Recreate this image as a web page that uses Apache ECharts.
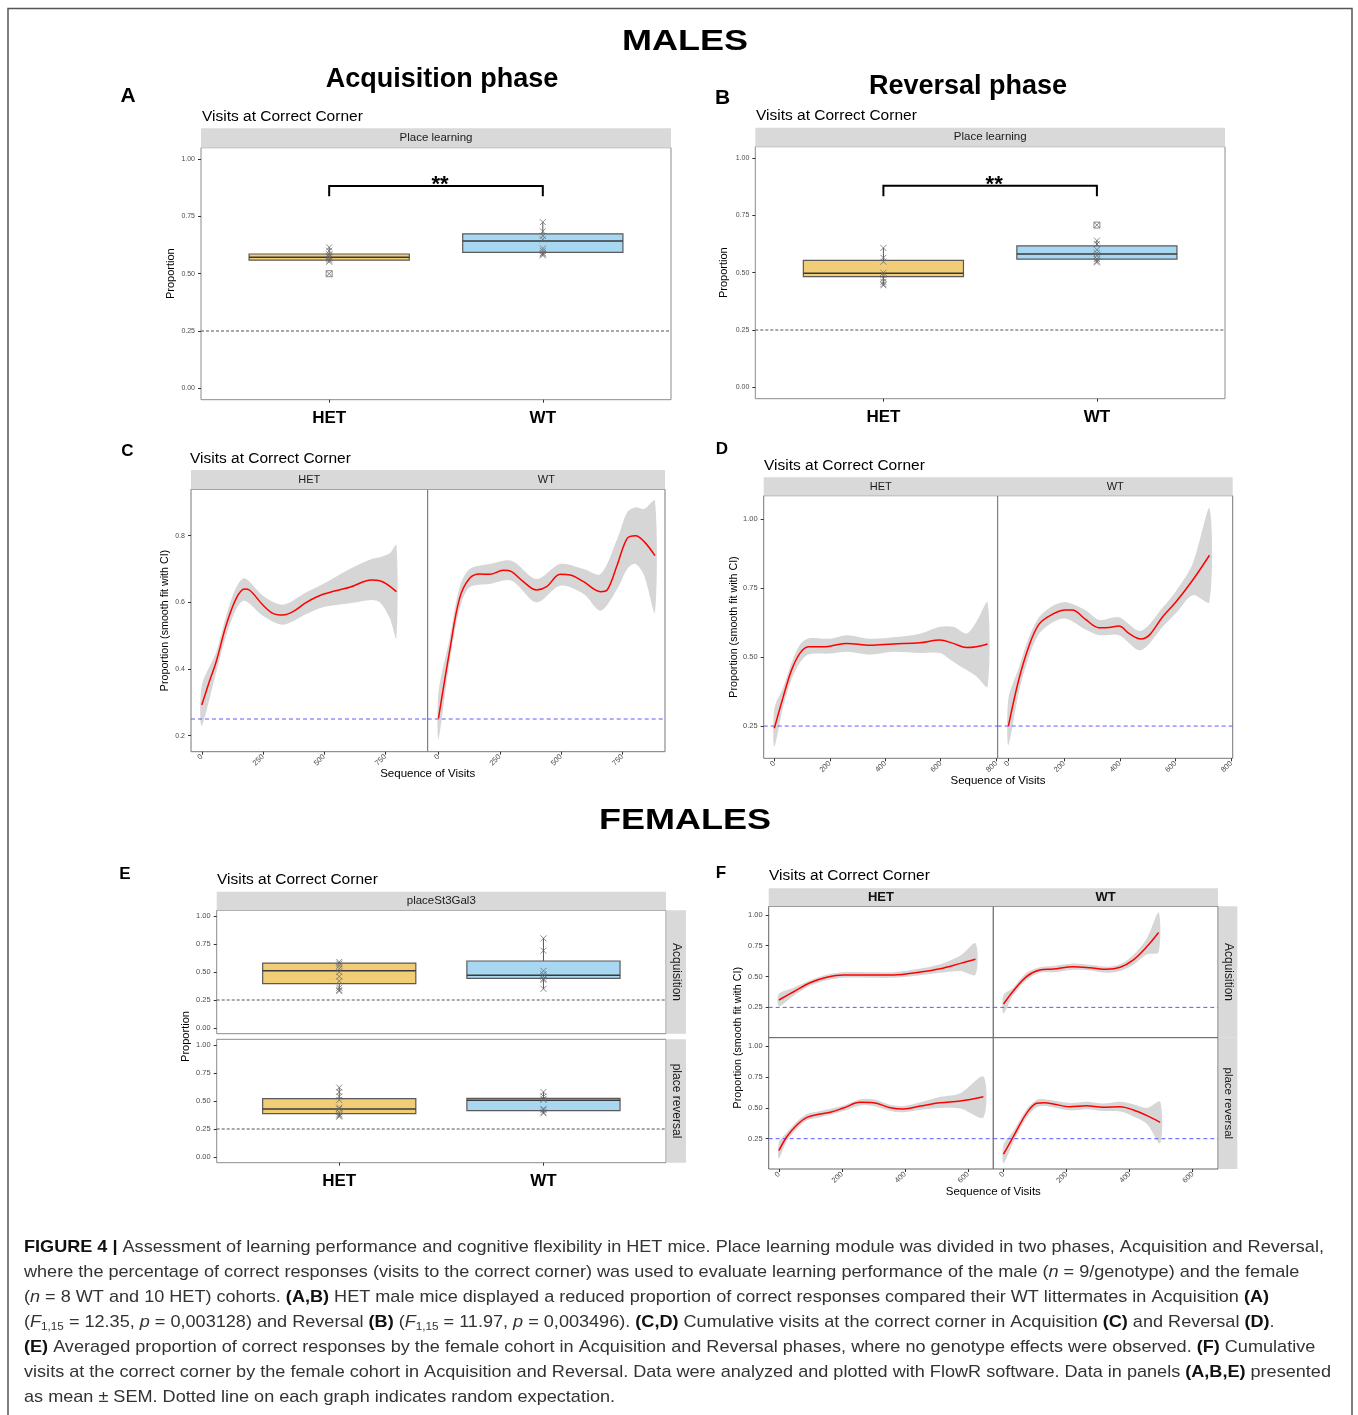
<!DOCTYPE html>
<html><head><meta charset="utf-8">
<script src="https://cdn.jsdelivr.net/npm/echarts@6/dist/echarts.min.js"></script>
<style>html,body{margin:0;padding:0;background:#fff}#main{width:1358px;height:1415px}</style>
</head><body><div id="main"></div>
<script>
// ---------------- DATA ----------------
const groupLabels = ['HET', 'WT'];
const chanceLevel = 0.25;
const boxYTicks = [0, 0.25, 0.5, 0.75, 1];
const cYTicks = [0.2, 0.4, 0.6, 0.8];
const cXTicks = [0, 250, 500, 750];
const dYTicks = [0.25, 0.5, 0.75, 1];
const dXTicks = [0, 200, 400, 600, 800];
const fYTicks = [0.25, 0.5, 0.75, 1];
const fXTicks = [0, 200, 400, 600];

// box stats: [lower whisker, Q1, median, Q3, upper whisker]
const maleAcqHetBox = [0.55, 0.559, 0.572, 0.586, 0.615];
const maleAcqWtBox  = [0.58, 0.593, 0.643, 0.674, 0.725];
const maleAcqHetPts = [0.615, 0.60, 0.585, 0.578, 0.572, 0.565, 0.558, 0.552];
const maleAcqHetOut = [0.50];
const maleAcqWtPts  = [0.725, 0.685, 0.665, 0.65, 0.61, 0.60, 0.59, 0.585, 0.58];
const maleAcqBracket = [0.883, 0.838];

const maleRevHetBox = [0.445, 0.483, 0.498, 0.554, 0.608];
const maleRevWtBox  = [0.545, 0.559, 0.582, 0.617, 0.64];
const maleRevHetPts = [0.608, 0.565, 0.548, 0.50, 0.49, 0.475, 0.46, 0.45, 0.445];
const maleRevWtPts  = [0.64, 0.625, 0.60, 0.585, 0.575, 0.56, 0.55, 0.545];
const maleRevWtOut  = [0.708];
const maleRevBracket = [0.88, 0.834];

const femAcqHetBox = [0.33, 0.396, 0.512, 0.58, 0.59];
const femAcqWtBox  = [0.35, 0.444, 0.47, 0.598, 0.80];
const femAcqHetPts = [0.59, 0.575, 0.555, 0.53, 0.50, 0.46, 0.42, 0.36, 0.34, 0.33];
const femAcqWtPts  = [0.80, 0.69, 0.51, 0.48, 0.46, 0.44, 0.43, 0.35];
const femRevHetBox = [0.36, 0.388, 0.429, 0.521, 0.62];
const femRevWtBox  = [0.39, 0.414, 0.506, 0.524, 0.58];
const femRevHetPts = [0.62, 0.58, 0.54, 0.51, 0.44, 0.43, 0.40, 0.38, 0.37, 0.36];
const femRevWtPts  = [0.58, 0.54, 0.52, 0.51, 0.43, 0.42, 0.40, 0.39];

// smooth fits [visit, proportion] and CI bands [visit, lower, upper]
const maleAcqHetFit = [[0,0.292],[30,0.36],[59,0.422],[100,0.532],[141,0.612],[175,0.64],[195,0.637],[250,0.592],[291,0.567],[332,0.562],[373,0.572],[428,0.60],[496,0.624],[605,0.645],[694,0.667],[728,0.665],[796,0.632]];
const maleAcqHetCI  = [[0,0.23,0.35],[59,0.39,0.45],[100,0.50,0.56],[141,0.58,0.645],[175,0.605,0.672],[250,0.56,0.62],[332,0.533,0.593],[428,0.565,0.63],[496,0.585,0.655],[605,0.597,0.70],[694,0.607,0.73],[728,0.60,0.735],[769,0.552,0.747],[796,0.492,0.772]];
const maleAcqWtFit  = [[0,0.252],[45,0.452],[86,0.612],[127,0.672],[168,0.685],[209,0.684],[264,0.696],[298,0.692],[346,0.662],[400,0.637],[441,0.647],[496,0.684],[537,0.682],[592,0.662],[661,0.632],[688,0.637],[729,0.712],[770,0.792],[804,0.80],[839,0.782],[883,0.74]];
const maleAcqWtCI   = [[0,0.19,0.33],[45,0.42,0.49],[86,0.58,0.645],[127,0.645,0.70],[209,0.655,0.715],[298,0.665,0.725],[400,0.60,0.67],[496,0.65,0.715],[592,0.625,0.70],[661,0.575,0.685],[729,0.64,0.79],[770,0.70,0.87],[804,0.715,0.885],[839,0.68,0.88],[883,0.57,0.905]];

const maleRevHetFit = [[0,0.242],[32,0.356],[62,0.453],[92,0.514],[123,0.538],[165,0.538],[201,0.54],[261,0.55],[345,0.543],[429,0.548],[525,0.552],[597,0.562],[645,0.55],[693,0.535],[729,0.538],[769,0.548]];
const maleRevHetCI  = [[0,0.175,0.314],[32,0.32,0.39],[62,0.42,0.48],[92,0.48,0.545],[123,0.51,0.568],[201,0.513,0.567],[261,0.52,0.58],[345,0.51,0.567],[429,0.52,0.572],[525,0.515,0.585],[597,0.515,0.61],[645,0.483,0.61],[693,0.453,0.586],[729,0.43,0.629],[769,0.393,0.699]];
const maleRevWtFit  = [[0,0.25],[37,0.417],[73,0.538],[110,0.62],[157,0.655],[205,0.671],[229,0.671],[277,0.637],[325,0.607],[361,0.608],[397,0.613],[433,0.586],[475,0.566],[506,0.58],[554,0.647],[602,0.701],[662,0.78],[722,0.87]];
const maleRevWtCI   = [[0,0.18,0.35],[37,0.37,0.46],[73,0.50,0.57],[110,0.585,0.645],[157,0.625,0.685],[205,0.64,0.70],[277,0.60,0.67],[325,0.58,0.635],[397,0.58,0.645],[475,0.525,0.595],[554,0.61,0.68],[602,0.66,0.74],[662,0.725,0.84],[722,0.70,1.04]];

const femAcqHetFit = [[0,0.31],[47,0.377],[99,0.45],[152,0.494],[205,0.513],[290,0.513],[364,0.513],[449,0.537],[512,0.564],[576,0.607],[624,0.64]];
const femAcqHetCI  = [[0,0.26,0.36],[47,0.345,0.41],[99,0.425,0.47],[152,0.47,0.515],[205,0.49,0.535],[290,0.49,0.535],[364,0.49,0.535],[449,0.51,0.565],[512,0.53,0.60],[576,0.545,0.67],[624,0.515,0.77]];
const femAcqWtFit  = [[0,0.277],[31,0.383],[73,0.50],[115,0.553],[158,0.561],[221,0.58],[274,0.572],[327,0.559],[370,0.575],[412,0.635],[455,0.743],[492,0.857]];
const femAcqWtCI   = [[0,0.20,0.35],[31,0.35,0.41],[73,0.47,0.53],[115,0.53,0.575],[158,0.535,0.585],[221,0.555,0.605],[274,0.55,0.595],[327,0.53,0.58],[370,0.545,0.60],[412,0.595,0.675],[455,0.68,0.81],[492,0.70,1.02]];
const femRevHetFit = [[0,0.153],[25,0.266],[57,0.361],[89,0.423],[131,0.45],[163,0.464],[205,0.499],[258,0.545],[300,0.542],[353,0.502],[396,0.491],[449,0.515],[512,0.542],[576,0.556],[649,0.591]];
const femRevHetCI  = [[0,0.09,0.22],[25,0.23,0.30],[57,0.33,0.39],[89,0.40,0.45],[131,0.425,0.475],[205,0.475,0.52],[258,0.52,0.57],[300,0.515,0.57],[353,0.475,0.525],[396,0.465,0.515],[449,0.485,0.545],[512,0.50,0.59],[576,0.495,0.62],[649,0.423,0.754]];
const femRevWtFit  = [[0,0.125],[31,0.266],[73,0.456],[105,0.537],[131,0.542],[158,0.532],[210,0.51],[263,0.518],[316,0.505],[370,0.51],[412,0.483],[455,0.437],[497,0.383]];
const femRevWtCI   = [[0,0.05,0.20],[31,0.22,0.31],[73,0.42,0.49],[105,0.505,0.565],[131,0.515,0.57],[210,0.48,0.54],[263,0.49,0.55],[316,0.475,0.535],[370,0.47,0.55],[412,0.43,0.53],[455,0.37,0.50],[497,0.212,0.55]];

const captionLines = [
  '{b|FIGURE 4 |} Assessment of learning performance and cognitive flexibility in HET mice. Place learning module was divided in two phases, Acquisition and Reversal,',
  'where the percentage of correct responses (visits to the correct corner) was used to evaluate learning performance of the male ({i|n} = 9/genotype) and the female',
  '({i|n} = 8 WT and 10 HET) cohorts. {b|(A,B)} HET male mice displayed a reduced proportion of correct responses compared their WT littermates in Acquisition {b|(A)}',
  '({i|F}{s|1,15} = 12.35, {i|p} = 0,003128) and Reversal {b|(B)} ({i|F}{s|1,15} = 11.97, {i|p} = 0,003496). {b|(C,D)} Cumulative visits at the correct corner in Acquisition {b|(C)} and Reversal {b|(D)}.',
  '{b|(E)} Averaged proportion of correct responses by the female cohort in Acquisition and Reversal phases, where no genotype effects were observed. {b|(F)} Cumulative',
  'visits at the correct corner by the female cohort in Acquisition and Reversal. Data were analyzed and plotted with FlowR software. Data in panels {b|(A,B,E)} presented',
  'as mean \u00b1 SEM. Dotted line on each graph indicates random expectation.'
];

// ---------------- BUILD ----------------
const FONT = '"Liberation Sans", Arial, Helvetica, sans-serif';
const HET_FILL = '#f1cd78';
const WT_FILL = '#a7d7f1';
const CROSS = 'path://M0,0L10,10M10,0L0,10';
const BOXX = 'path://M0,0L10,0L10,10L0,10Z M0,0L10,10M10,0L0,10';
const grids = [], xAxes = [], yAxes = [], series = [], elements = [];

function addPanel(box, xr, yr, o) {
  const i = grids.length;
  grids.push({left: box[0], top: box[1], width: box[2], height: box[3], show: true,
    borderColor: o.border || '#8c8c8c', borderWidth: 1, backgroundColor: '#ffffff',
    containLabel: false, outerBoundsMode: 'none'});
  const xt = o.xTicks || [], yt = o.yTicks || [];
  xAxes.push({gridIndex: i, type: 'value', min: xr[0], max: xr[1], position: 'bottom',
    splitLine: {show: false}, axisLine: {show: false, onZero: false},
    axisTick: {show: xt.length > 0, customValues: xt, length: 3, lineStyle: {color: '#333', width: 1}},
    axisLabel: {show: xt.length > 0, customValues: xt, formatter: o.xFmt || (v => String(v)),
      rotate: o.xRot || 0, margin: o.xMargin == null ? 4 : o.xMargin, fontSize: o.xSize || 7.5,
      fontWeight: o.xWeight || 'normal', color: o.xColor || '#4d4d4d', fontFamily: FONT}});
  yAxes.push({gridIndex: i, type: 'value', min: yr[0], max: yr[1], position: 'left',
    splitLine: {show: false}, axisLine: {show: false, onZero: false},
    axisTick: {show: yt.length > 0, customValues: yt, length: 3, lineStyle: {color: '#333', width: 1}},
    axisLabel: {show: yt.length > 0, customValues: yt, formatter: o.yFmt || (v => v.toFixed(2)),
      margin: 6, fontSize: o.ySize || 7.5, color: '#4d4d4d', fontFamily: FONT}});
  return i;
}

function chanceSeries(i, color, dash) {
  series.push({type: 'custom', xAxisIndex: i, yAxisIndex: i, z: 2.5, silent: true, clip: false,
    data: [[chanceLevel]],
    renderItem: (p, api) => {
      const cs = p.coordSys;
      const y = api.coord([cs.x, api.value(0)])[1];
      const yy = api.coord([0, api.value(0)])[1];
      return {type: 'line', shape: {x1: cs.x, y1: yy, x2: cs.x + cs.width, y2: yy},
        style: {stroke: color, lineWidth: dash ? 1.1 : 1, lineDash: dash || [4, 3]}};
    }});
}

function boxSeries(i, pos, st, fill) {
  series.push({type: 'custom', xAxisIndex: i, yAxisIndex: i, z: 3, silent: true, clip: false,
    data: [[pos].concat(st)],
    renderItem: (p, api) => {
      const x = api.value(0);
      const c = k => api.coord([x, api.value(k)]);
      const lo = c(1), q1 = c(2), md = c(3), q3 = c(4), hi = c(5);
      const l = api.coord([x - 0.375, 0])[0], r = api.coord([x + 0.375, 0])[0];
      const ln = (a, b) => ({type: 'line', shape: {x1: a[0], y1: a[1], x2: b[0], y2: b[1]}, style: {stroke: '#555', lineWidth: 1}});
      return {type: 'group', children: [
        ln(lo, q1), ln(q3, hi),
        {type: 'rect', shape: {x: l, y: q3[1], width: r - l, height: q1[1] - q3[1]}, style: {fill: fill, stroke: '#5a5a5a', lineWidth: 1.2}},
        {type: 'line', shape: {x1: l, y1: md[1], x2: r, y2: md[1]}, style: {stroke: '#3a3a3a', lineWidth: 1.5}}
      ]};
    }});
}

function pointSeries(i, pos, vals, sym) {
  series.push({type: 'scatter', xAxisIndex: i, yAxisIndex: i, z: 4, silent: true, symbol: sym, symbolSize: 6,
    data: vals.map(v => [pos, v]),
    itemStyle: {color: 'rgba(0,0,0,0)', borderColor: '#666', borderWidth: 1, opacity: 0.75}});
}

function bracketSeries(i, br) {
  series.push({type: 'custom', xAxisIndex: i, yAxisIndex: i, z: 5, silent: true, clip: false, data: [br],
    renderItem: (p, api) => {
      const a = api.coord([1, api.value(1)]), b = api.coord([1, api.value(0)]),
            c = api.coord([2, api.value(0)]), d = api.coord([2, api.value(1)]);
      return {type: 'group', children: [
        {type: 'polyline', shape: {points: [a, b, c, d]}, style: {stroke: '#000', lineWidth: 2, fill: 'none'}},
        {type: 'text', x: (b[0] + c[0]) / 2 + 4, y: b[1] - 1, style: {text: '**', fontSize: 22, fontWeight: 'bold',
          fontFamily: FONT, fill: '#000', align: 'center', verticalAlign: 'middle'}}
      ]};
    }});
}

function bandSeries(i, band) {
  series.push({type: 'custom', xAxisIndex: i, yAxisIndex: i, z: 2, silent: true, clip: true, data: band,
    renderItem: (p, api) => {
      if (p.dataIndex !== 0) return null;
      const up = band.map(d => api.coord([d[0], d[2]]));
      const lo = band.map(d => api.coord([d[0], d[1]])).reverse();
      return {type: 'polygon', shape: {points: up.concat(lo), smooth: 0.3}, style: {fill: '#999999', opacity: 0.4}};
    }});
}

function curveSeries(i, curve) {
  series.push({type: 'line', xAxisIndex: i, yAxisIndex: i, z: 3, silent: true, smooth: 0.35,
    showSymbol: false, symbol: 'none', data: curve, lineStyle: {color: '#ff0000', width: 1.5}});
  chanceSeries(i, '#5b5bff', null);
}

function T(x, y, text, size, o) {
  o = o || {};
  elements.push({type: 'text', x: x, y: y, rotation: o.rot || 0, scaleX: o.sx || 1, z: 10, silent: true,
    style: {text: text, fontSize: size, fontWeight: o.w || 'normal', fontFamily: FONT, fill: o.c || '#000',
      align: o.a || 'center', verticalAlign: 'middle', rich: o.rich}});
}
function R(x, y, w, h, fill) {
  elements.push({type: 'rect', shape: {x: x, y: y, width: w, height: h}, style: {fill: fill}, z: 0, silent: true});
}

const catFmt = v => groupLabels[Math.round(v) - 1];
const boxX = {xTicks: [1, 2], xFmt: catFmt, xSize: 17, xWeight: 'bold', xColor: '#000', xMargin: 10};
const GRAYDASH = [3, 2];

// Panel A
let i = addPanel([201, 147.7, 470, 252], [0.4, 2.6], [-0.05, 1.05], Object.assign({yTicks: boxYTicks, ySize: 7}, boxX));
chanceSeries(i, '#555', GRAYDASH);
boxSeries(i, 1, maleAcqHetBox, HET_FILL); boxSeries(i, 2, maleAcqWtBox, WT_FILL);
pointSeries(i, 1, maleAcqHetPts, CROSS); pointSeries(i, 1, maleAcqHetOut, BOXX); pointSeries(i, 2, maleAcqWtPts, CROSS);
bracketSeries(i, maleAcqBracket);
// Panel B
i = addPanel([755.3, 146.7, 469.7, 252], [0.4, 2.6], [-0.05, 1.05], Object.assign({yTicks: boxYTicks, ySize: 7}, boxX));
chanceSeries(i, '#555', GRAYDASH);
boxSeries(i, 1, maleRevHetBox, HET_FILL); boxSeries(i, 2, maleRevWtBox, WT_FILL);
pointSeries(i, 1, maleRevHetPts, CROSS); pointSeries(i, 2, maleRevWtPts, CROSS); pointSeries(i, 2, maleRevWtOut, BOXX);
bracketSeries(i, maleRevBracket);
// Panel C
const cx = {xTicks: cXTicks, xRot: 45, xMargin: 4, border: '#777'};
i = addPanel([191, 489.3, 236.7, 262.4], [-44, 924], [0.152, 0.939], Object.assign({yTicks: cYTicks, yFmt: v => v.toFixed(1), ySize: 7}, cx));
bandSeries(i, maleAcqHetCI); curveSeries(i, maleAcqHetFit);
i = addPanel([427.7, 489.3, 237.3, 262.4], [-44, 924], [0.152, 0.939], cx);
bandSeries(i, maleAcqWtCI); curveSeries(i, maleAcqWtFit);
// Panel D
const dx = {xTicks: dXTicks, xRot: 45, xMargin: 4, border: '#777'};
i = addPanel([763.7, 495.7, 234, 262.6], [-38.4, 805.4], [0.133, 1.086], Object.assign({yTicks: dYTicks}, dx));
bandSeries(i, maleRevHetCI); curveSeries(i, maleRevHetFit);
i = addPanel([997.7, 495.7, 235, 262.6], [-38.4, 805.4], [0.133, 1.086], dx);
bandSeries(i, maleRevWtCI); curveSeries(i, maleRevWtFit);
// Panel E
i = addPanel([216.7, 910.3, 449.3, 123.4], [0.4, 2.6], [-0.05, 1.05], {yTicks: boxYTicks});
chanceSeries(i, '#555', GRAYDASH);
boxSeries(i, 1, femAcqHetBox, HET_FILL); boxSeries(i, 2, femAcqWtBox, WT_FILL);
pointSeries(i, 1, femAcqHetPts, CROSS); pointSeries(i, 2, femAcqWtPts, CROSS);
i = addPanel([216.7, 1039.3, 449.3, 123.4], [0.4, 2.6], [-0.05, 1.05], Object.assign({yTicks: boxYTicks}, boxX));
chanceSeries(i, '#555', GRAYDASH);
boxSeries(i, 1, femRevHetBox, HET_FILL); boxSeries(i, 2, femRevWtBox, WT_FILL);
pointSeries(i, 1, femRevHetPts, CROSS); pointSeries(i, 2, femRevWtPts, CROSS);
// Panel F
const fr = [-32.4, 680.4], fy = [0.004, 1.07];
i = addPanel([768.7, 906.3, 224.6, 131.4], fr, fy, {yTicks: fYTicks, border: '#666'});
bandSeries(i, femAcqHetCI); curveSeries(i, femAcqHetFit);
i = addPanel([993.3, 906.3, 224.7, 131.4], fr, fy, {border: '#666'});
bandSeries(i, femAcqWtCI); curveSeries(i, femAcqWtFit);
i = addPanel([768.7, 1037.7, 224.6, 131.3], fr, fy, {yTicks: fYTicks, xTicks: fXTicks, xRot: 45, xMargin: 4, border: '#666'});
bandSeries(i, femRevHetCI); curveSeries(i, femRevHetFit);
i = addPanel([993.3, 1037.7, 224.7, 131.3], fr, fy, {xTicks: fXTicks, xRot: 45, xMargin: 4, border: '#666'});
bandSeries(i, femRevWtCI); curveSeries(i, femRevWtFit);

// ---------------- TEXT & STRIPS ----------------
elements.push({type: 'rect', shape: {x: 8, y: 8.5, width: 1344, height: 1440}, style: {fill: 'none', stroke: '#555', lineWidth: 1.5}, z: 0, silent: true});
const STRIP = '#d9d9d9';
R(201, 128.3, 470, 19.4, STRIP); T(436, 138, 'Place learning', 11.5, {c: '#1a1a1a'});
R(755.3, 127.7, 469.7, 19, STRIP); T(990.2, 137.2, 'Place learning', 11.5, {c: '#1a1a1a'});
R(191, 470, 474, 19.3, STRIP); T(309.3, 479.7, 'HET', 11, {c: '#1a1a1a'}); T(546.3, 479.7, 'WT', 11, {c: '#1a1a1a'});
R(763.7, 477.3, 469, 18.4, STRIP); T(880.7, 486.5, 'HET', 11, {c: '#1a1a1a'}); T(1115.2, 486.5, 'WT', 11, {c: '#1a1a1a'});
R(216.7, 891.7, 449.3, 18.6, STRIP); T(441.3, 901, 'placeSt3Gal3', 11.5, {c: '#1a1a1a'});
R(666.7, 910.3, 19.3, 123.4, STRIP); T(676.3, 972, 'Acquisition', 12, {rot: -Math.PI / 2, c: '#1a1a1a'});
R(666.7, 1039.3, 19.3, 123.4, STRIP); T(676.3, 1101, 'place reversal', 12, {rot: -Math.PI / 2, c: '#1a1a1a'});
R(768.7, 888.3, 449.3, 18, STRIP); T(880.9, 897.3, 'HET', 13, {w: 'bold', c: '#111'}); T(1105.6, 897.3, 'WT', 13, {w: 'bold', c: '#111'});
R(1218.7, 906.3, 18.6, 131.4, STRIP); T(1228, 972, 'Acquisition', 12, {rot: -Math.PI / 2, c: '#1a1a1a'});
R(1218.7, 1037.7, 18.6, 131.3, STRIP); T(1228, 1103.3, 'place reversal', 11.5, {rot: -Math.PI / 2, c: '#1a1a1a'});

// titles
T(685, 42, 'MALES', 30, {w: 'bold', sx: 1.2});
T(685, 821, 'FEMALES', 30, {w: 'bold', sx: 1.2});
T(442, 80, 'Acquisition phase', 27, {w: 'bold'});
T(968, 87, 'Reversal phase', 27, {w: 'bold'});
T(128, 96, 'A', 21, {w: 'bold'}); T(722.5, 98.5, 'B', 21, {w: 'bold'});
T(127.5, 451, 'C', 17, {w: 'bold'}); T(722, 449, 'D', 17, {w: 'bold'});
T(125, 874, 'E', 17, {w: 'bold'}); T(721, 873, 'F', 17, {w: 'bold'});
const vis = 'Visits at Correct Corner';
T(202, 117, vis, 15.5, {a: 'left'}); T(756, 116, vis, 15.5, {a: 'left'});
T(190, 459, vis, 15.5, {a: 'left'}); T(764, 466, vis, 15.5, {a: 'left'});
T(217, 880, vis, 15.5, {a: 'left'}); T(769, 876, vis, 15.5, {a: 'left'});
// axis titles
const R90 = Math.PI / 2;
T(170.5, 273.7, 'Proportion', 11, {rot: R90}); T(723.8, 272.7, 'Proportion', 11, {rot: R90});
T(164.7, 620.5, 'Proportion (smooth fit with CI)', 10.7, {rot: R90});
T(733.7, 627, 'Proportion (smooth fit with CI)', 10.7, {rot: R90});
T(185.8, 1036.5, 'Proportion', 11, {rot: R90});
T(737.7, 1037.7, 'Proportion (smooth fit with CI)', 10.7, {rot: R90});
T(427.7, 774, 'Sequence of Visits', 11.5); T(998, 781, 'Sequence of Visits', 11.5); T(993.3, 1191.7, 'Sequence of Visits', 11.5);

// caption
const capSize = 17;
const capRich = {
  b: {fontSize: capSize, fontFamily: FONT, fontWeight: 'bold', fill: '#111', lineHeight: 20},
  i: {fontSize: capSize, fontFamily: FONT, fontStyle: 'italic', fill: '#333', lineHeight: 20},
  s: {fontSize: 11, fontFamily: FONT, fill: '#333', lineHeight: 8, verticalAlign: 'bottom'}
};
captionLines.forEach((line, k) => {
  elements.push({type: 'text', x: 24, y: 1247 + 25 * k, scaleX: 1.064, z: 10, silent: true,
    style: {text: line, fontSize: capSize, fontFamily: FONT, fill: '#333', align: 'left', verticalAlign: 'middle',
      lineHeight: 20, rich: capRich}});
});

const chart = echarts.init(document.getElementById('main'), null, {renderer: 'canvas', width: 1358, height: 1415});
chart.setOption({
  animation: false,
  backgroundColor: '#ffffff',
  grid: grids, xAxis: xAxes, yAxis: yAxes, series: series,
  graphic: {elements: elements}
});
</script></body></html>
